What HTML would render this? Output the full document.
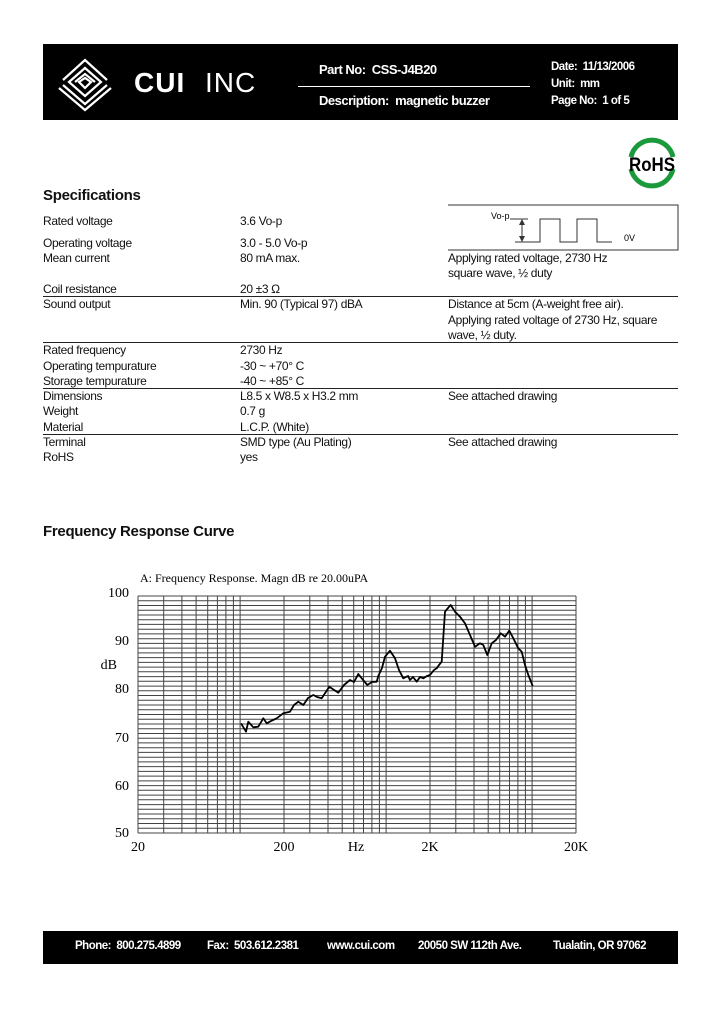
<!DOCTYPE html>
<html><head><meta charset="utf-8"><style>
body{margin:0;background:#fff;}
.pg{position:relative;width:720px;height:1012px;background:#fff;font-family:"Liberation Sans",Arial,sans-serif;overflow:hidden;}
.t{position:absolute;font-size:12px;letter-spacing:-0.35px;color:#111;white-space:nowrap;line-height:14px;}
.w{position:absolute;color:#fff;font-weight:bold;white-space:nowrap;letter-spacing:-0.5px;}
.hl{position:absolute;left:43px;width:635px;height:1px;background:#222;}
</style></head><body><div class="pg">
<div style="position:absolute;left:43px;top:44px;width:635px;height:76px;background:#000"></div>
<svg style="position:absolute;left:55px;top:52px" width="80" height="60" viewBox="0 0 80 60">
<g fill="none" stroke="#fff" stroke-width="2.2">
<path d="M8 28 L30 8 L52 28"/><path d="M14 30 L30 16 L46 30 L30 44 Z"/><path d="M20 30 L30 22 L40 30"/><path d="M8 33 L30 52 L52 33"/><path d="M4 36 L30 58 L56 36"/><path d="M24 30 L30 26 L36 30 L30 36Z"/>
</g></svg>
<div class="w" style="left:134px;top:67px;font-size:28px;font-weight:900;letter-spacing:1px">CUI</div>
<div class="w" style="left:205px;top:67px;font-size:28px;font-weight:normal;letter-spacing:1px">INC</div>
<div class="w" style="left:319px;top:62px;font-size:13px">Part No:&nbsp; CSS-J4B20</div>
<div style="position:absolute;left:298px;top:86px;width:232px;height:1px;background:#fff"></div>
<div class="w" style="left:319px;top:93px;font-size:13px">Description:&nbsp; magnetic buzzer</div>
<div class="w" style="left:551px;top:61px;font-size:11.5px">Date:&nbsp; 11/13/2006</div>
<div class="w" style="left:551px;top:78px;font-size:11.5px">Unit:&nbsp; mm</div>
<div class="w" style="left:551px;top:95px;font-size:11.5px">Page No:&nbsp; 1 of 5</div>
<svg style="position:absolute;left:624px;top:137px" width="56" height="52" viewBox="0 0 56 52">
<path d="M7 20 A21.5 21.5 0 0 1 49 20" fill="none" stroke="#1a9a3a" stroke-width="5"/>
<path d="M7 32 A21.5 21.5 0 0 0 49 32" fill="none" stroke="#1a9a3a" stroke-width="5"/>
<text x="28" y="34" text-anchor="middle" font-family="Liberation Sans Narrow,Liberation Sans,sans-serif" font-weight="bold" font-size="19" textLength="46" lengthAdjust="spacingAndGlyphs">RoHS</text></svg>
<div class="t" style="left:43px;top:189px;font-size:15px;font-weight:bold;letter-spacing:-0.3px">Specifications</div>
<svg style="position:absolute;left:440px;top:200px" width="245" height="55">
<path d="M8 5 H238 V50 H8" fill="none" stroke="#333" stroke-width="1"/>
<path d="M75 42 H100 V19 H120 V42 H137 V19 H157 V42 H172" fill="none" stroke="#333"/>
<path d="M70 19 H88 M82 21 V40" stroke="#333" fill="none"/>
<path d="M79 25 L82 19 L85 25 Z M79 36 L82 42 L85 36Z" fill="#333"/>
<text x="51" y="19" font-family="Liberation Sans" font-size="9">Vo-p</text>
<text x="184" y="41" font-family="Liberation Sans" font-size="9">0V</text></svg>
<div class="t" style="left:43px;top:214px">Rated voltage</div><div class="t" style="left:240px;top:214px">3.6 Vo-p</div>
<div class="t" style="left:43px;top:236px">Operating voltage</div><div class="t" style="left:240px;top:236px">3.0 - 5.0 Vo-p</div>
<div class="t" style="left:43px;top:251px">Mean current</div><div class="t" style="left:240px;top:251px">80 mA max.</div>
<div class="t" style="left:448px;top:251px">Applying rated voltage, 2730 Hz</div>
<div class="t" style="left:448px;top:266px">square wave, ½ duty</div>
<div class="t" style="left:43px;top:282px">Coil resistance</div><div class="t" style="left:240px;top:282px">20 ±3 Ω</div>
<div class="hl" style="top:296px"></div>
<div class="t" style="left:43px;top:297px">Sound output</div><div class="t" style="left:240px;top:297px">Min. 90 (Typical 97) dBA</div>
<div class="t" style="left:448px;top:297px">Distance at 5cm (A-weight free air).</div>
<div class="t" style="left:448px;top:313px">Applying rated voltage of 2730 Hz, square</div>
<div class="t" style="left:448px;top:328px">wave, ½ duty.</div>
<div class="hl" style="top:342px"></div>
<div class="t" style="left:43px;top:343px">Rated frequency</div><div class="t" style="left:240px;top:343px">2730 Hz</div>
<div class="t" style="left:43px;top:359px">Operating tempurature</div><div class="t" style="left:240px;top:359px">-30 ~ +70° C</div>
<div class="t" style="left:43px;top:374px">Storage tempurature</div><div class="t" style="left:240px;top:374px">-40 ~ +85° C</div>
<div class="hl" style="top:388px"></div>
<div class="t" style="left:43px;top:389px">Dimensions</div><div class="t" style="left:240px;top:389px">L8.5 x W8.5 x H3.2 mm</div><div class="t" style="left:448px;top:389px">See attached drawing</div>
<div class="t" style="left:43px;top:404px">Weight</div><div class="t" style="left:240px;top:404px">0.7 g</div>
<div class="t" style="left:43px;top:420px">Material</div><div class="t" style="left:240px;top:420px">L.C.P. (White)</div>
<div class="hl" style="top:434px"></div>
<div class="t" style="left:43px;top:435px">Terminal</div><div class="t" style="left:240px;top:435px">SMD type (Au Plating)</div><div class="t" style="left:448px;top:435px">See attached drawing</div>
<div class="t" style="left:43px;top:450px">RoHS</div><div class="t" style="left:240px;top:450px">yes</div>
<div class="t" style="left:43px;top:525px;font-size:15px;font-weight:bold;letter-spacing:-0.3px">Frequency Response Curve</div>
<svg style="position:absolute;left:0;top:560px" width="720" height="300" viewBox="0 560 720 300" font-family="Liberation Serif,serif">
<text x="140" y="582" font-size="12">A: Frequency Response. Magn dB re 20.00uPA</text>
<g stroke="#444" stroke-width="1" fill="none">
<path d="M138 596V833M163.7 596V833M181.9 596V833M196.1 596V833M207.7 596V833M217.4 596V833M225.9 596V833M233.4 596V833M240.1 596V833M284 596V833M309.8 596V833M328 596V833M342.2 596V833M353.7 596V833M363.5 596V833M371.9 596V833M379.4 596V833M386.1 596V833M430 596V833M455.8 596V833M474 596V833M488.2 596V833M499.7 596V833M509.5 596V833M517.9 596V833M525.4 596V833M532.1 596V833M576 596V833"/>
<path d="M138 596H576M138 600.7H576M138 605.5H576M138 610.2H576M138 615H576M138 619.7H576M138 624.4H576M138 629.2H576M138 633.9H576M138 638.7H576M138 643.4H576M138 648.1H576M138 652.9H576M138 657.6H576M138 662.4H576M138 667.1H576M138 671.8H576M138 676.6H576M138 681.3H576M138 686.1H576M138 690.8H576M138 695.5H576M138 700.3H576M138 705H576M138 709.8H576M138 714.5H576M138 719.2H576M138 724H576M138 728.7H576M138 733.5H576M138 738.2H576M138 742.9H576M138 747.7H576M138 752.4H576M138 757.2H576M138 761.9H576M138 766.6H576M138 771.4H576M138 776.1H576M138 780.9H576M138 785.6H576M138 790.3H576M138 795.1H576M138 799.8H576M138 804.6H576M138 809.3H576M138 814H576M138 818.8H576M138 823.5H576M138 828.3H576M138 833H576"/>
</g>
<polyline fill="none" stroke="#000" stroke-width="1.8" stroke-linejoin="round" points="241,723.3 246,731.7 248.3,721.7 253.3,727.3 258.3,726.7 263.3,718.3 266.7,723.3 271,721 276.7,718.3 283.3,713.3 290,711.7 294,705 298.3,701.7 303.3,705 308,698 313.3,695 317,697 321.7,698.3 329.3,686.7 338.3,692.7 344,685 350,680 354,682 358.3,674 361.7,678.3 367.3,685 372,682 376.7,681.7 378.3,676 382,668 385,656.7 390,650.7 395,658.3 399,670 403.3,678.3 408,676 410,680 413,677 416.7,681.7 420,677 423.3,678.3 427,676 430,675 434,670 436.7,668.3 439,665 441.7,661.7 445,611.7 448,608 450.7,605 455,611.7 460,616.7 465,623.3 470,635 475,646.7 480,643.3 483.3,645 487.3,655 491.7,643.3 496,640 500.7,633.3 505,636.7 509.3,630.7 513.3,638.3 518.3,648.3 521.7,651.7 525,665 528.3,675 532.7,686"/>
<g font-size="14" text-anchor="end">
<text x="129" y="597">100</text><text x="129" y="645">90</text><text x="117" y="669">dB</text><text x="129" y="693">80</text><text x="129" y="742">70</text><text x="129" y="790">60</text><text x="129" y="837">50</text></g>
<g font-size="14" text-anchor="middle">
<text x="138" y="851">20</text><text x="284" y="851">200</text><text x="356" y="851">Hz</text><text x="430" y="851">2K</text><text x="576" y="851">20K</text></g>
</svg>
<div style="position:absolute;left:43px;top:931px;width:635px;height:33px;background:#000"></div>
<div class="w" style="left:75px;top:940px;font-size:11.5px">Phone:&nbsp; 800.275.4899</div>
<div class="w" style="left:207px;top:940px;font-size:11.5px">Fax:&nbsp; 503.612.2381</div>
<div class="w" style="left:327px;top:940px;font-size:11.5px">www.cui.com</div>
<div class="w" style="left:418px;top:940px;font-size:11.5px">20050 SW 112th Ave.</div>
<div class="w" style="left:553px;top:940px;font-size:11.5px">Tualatin, OR 97062</div>
</div></body></html>
